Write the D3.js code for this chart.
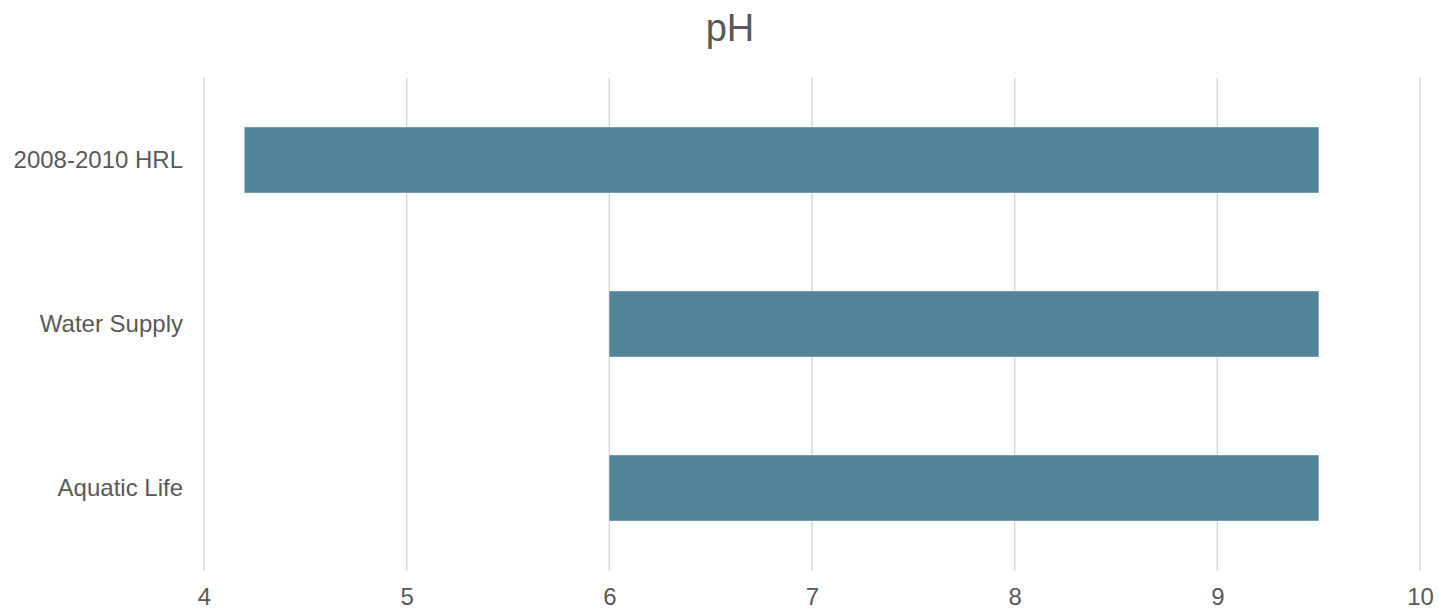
<!DOCTYPE html>
<html><head><meta charset="utf-8">
<script src="https://cdn.jsdelivr.net/npm/d3@7"></script>
<style>body{margin:0;background:#fff;} svg{display:block;}</style>
</head><body>
<svg id="c" width="1439" height="610"></svg>
<script>
const categories = ["2008-2010 HRL", "Water Supply", "Aquatic Life"];
const lowValues = [4.2, 6, 6];
const highValues = [9.5, 9.5, 9.5];
const xTicks = [4, 5, 6, 7, 8, 9, 10];
const title = "pH";

const svg = d3.select("#c");
const font = "'Liberation Sans', Arial, sans-serif";
const x = d3.scaleLinear().domain([4, 10]).range([204, 1420]);
const y = d3.scaleBand().domain(categories).range([78, 570]).paddingInner(0.6).paddingOuter(0.3);

svg.append("text").attr("x", 730).attr("y", 41).attr("text-anchor", "middle")
  .attr("font-family", font).attr("font-size", 38).attr("fill", "#595959").text(title);

svg.append("g").selectAll("line").data(xTicks).join("line")
  .attr("x1", d => x(d)).attr("x2", d => x(d)).attr("y1", 78).attr("y2", 571)
  .attr("stroke", "#d9d9d9").attr("stroke-width", 1.5);

const data = categories.map((c, i) => ({c, lo: lowValues[i], hi: highValues[i]}));
svg.append("g").selectAll("rect").data(data).join("rect")
  .attr("x", d => x(d.lo)).attr("width", d => x(d.hi) - x(d.lo))
  .attr("y", d => y(d.c)).attr("height", y.bandwidth())
  .attr("fill", "#52849a");

const xAxis = svg.append("g").attr("transform", "translate(0,571)")
  .call(d3.axisBottom(x).tickValues(xTicks).tickSize(0).tickPadding(17).tickFormat(d3.format("d")));
xAxis.select(".domain").remove();
xAxis.selectAll("text").attr("font-family", font).attr("font-size", 24).attr("fill", "#595959");

const yAxis = svg.append("g").attr("transform", "translate(183,0)")
  .call(d3.axisLeft(y).tickSize(0).tickPadding(0));
yAxis.select(".domain").remove();
yAxis.selectAll("text").attr("font-family", font).attr("font-size", 24).attr("fill", "#595959");
</script>
</body></html>
